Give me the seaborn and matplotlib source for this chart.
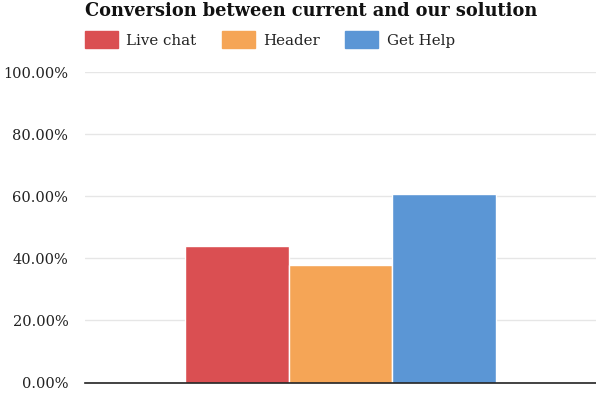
import matplotlib
matplotlib.use("Agg")
import matplotlib.pyplot as plt
import seaborn as sns
import pandas as pd
from matplotlib.ticker import FuncFormatter

categories = ["Conversion"]
series = ["Live chat", "Header", "Get Help"]
values = [43.9, 37.8, 60.6]
colors = ["#DA4F52", "#F5A556", "#5B96D5"]
yticks = [0, 20, 40, 60, 80, 100]

df = pd.DataFrame({"group": categories * len(series), "series": series, "value": values})

sns.set_theme(style="white")
plt.rcParams["font.family"] = ["DejaVu Serif"]

fig = plt.figure(figsize=(5.96, 3.94), dpi=100)
ax = fig.add_axes([85/596, 11.4/394, 511/596, 310.6/394])

sns.barplot(data=df, x="group", y="value", hue="series", palette=colors,
            width=0.61, ax=ax, edgecolor="white", linewidth=1, saturation=1)

ax.set_ylim(0, 100)
ax.set_xlim(-0.5, 0.5)
ax.set_yticks(yticks)
ax.yaxis.set_major_formatter(FuncFormatter(lambda v, p: f"{v:.2f}%"))
ax.tick_params(axis="y", length=0, pad=12, labelsize=10.5, labelcolor="#222222")
ax.set_xticks([])
ax.set_xlabel("")
ax.set_ylabel("")
ax.grid(axis="y", color="#e6e6e6", linewidth=1)
ax.set_axisbelow(True)
for s in ["left", "right", "top"]:
    ax.spines[s].set_visible(False)
ax.spines["bottom"].set_color("#222222")
ax.spines["bottom"].set_linewidth(1.2)
ax.spines["bottom"].set_zorder(5)

ax.get_legend().remove()
handles = [plt.Rectangle((0, 0), 1, 1, color=c) for c in colors]
fig.legend(handles, series, loc="upper left", bbox_to_anchor=(85/596, 1 - 31/394),
           ncol=3, frameon=False, handlelength=2.2, handleheight=1.4,
           columnspacing=1.7, handletextpad=0.55, fontsize=10.8,
           borderpad=0, borderaxespad=0,
           labelcolor="#222222")

fig.text(85/596, 1 - 2/394, "Conversion between current and our solution",
         ha="left", va="top", fontsize=12.8, fontweight="bold", color="#111111")

fig.savefig("out.png", dpi=100)
